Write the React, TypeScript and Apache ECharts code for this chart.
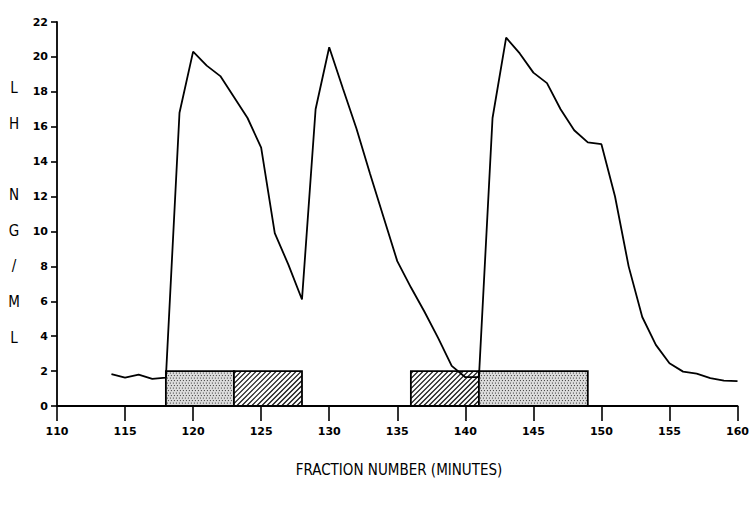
import React, { useEffect, useRef } from "react";
import * as echarts from "echarts";

// Fraction numbers (minutes) and LH concentration (ng/ml)
const fractions = [
  114, 115, 116, 117, 118, 119, 120, 121, 122, 123, 124, 125, 126, 127, 128, 129,
  130, 131, 132, 133, 134, 135, 136, 137, 138, 139, 140, 141, 142, 143, 144, 145,
  146, 147, 148, 149, 150, 151, 152, 153, 154, 155, 156, 157, 158, 159, 160,
];
const lhValues = [
  1.83, 1.62, 1.8, 1.55, 1.62, 16.8, 20.3, 19.5, 18.9, 17.7, 16.5, 14.8, 9.9, 8.1, 6.1, 17.0,
  20.55, 18.2, 15.9, 13.3, 10.8, 8.3, 6.8, 5.4, 3.9, 2.3, 1.65, 1.65, 16.5, 21.1, 20.2, 19.1,
  18.5, 17.0, 15.8, 15.1, 15.0, 12.0, 8.0, 5.1, 3.5, 2.45, 1.97, 1.85, 1.6, 1.45, 1.43,
];

// Treatment boxes: start, end, height, pattern (0 = dotted, 1 = hatched)
const boxStarts = [118, 123, 136, 141];
const boxEnds = [123, 128, 141, 149];
const boxHeights = [2, 2, 2, 2];
const boxPatterns = [0, 1, 1, 0];

const xTicks = { min: 110, max: 160, interval: 5 };
const yTicks = { min: 0, max: 22, interval: 2 };

const xTitle = "FRACTION NUMBER (MINUTES)";
const yTitle = "L\nH\n\nN\nG\n/\nM\nL";

export default function App() {
  const ref = useRef<HTMLDivElement>(null);

  useEffect(() => {
    document.body.style.margin = "0";
    if (!ref.current) return;
    const chart = echarts.init(ref.current, null, { renderer: "svg" });

    const lineData = fractions.map((f, i) => [f, lhValues[i]]);
    const boxData = boxStarts.map((s, i) => [s, boxEnds[i], boxHeights[i], boxPatterns[i]]);

    const tickFont = {
      color: "#000",
      fontFamily: "DejaVu Sans",
      fontWeight: "bold" as const,
      fontSize: 11,
    };

    const renderBox = (params: any, api: any) => {
      const x0 = api.value(0);
      const x1 = api.value(1);
      const h = api.value(2);
      const kind = api.value(3);
      const p0 = api.coord([x0, 0]);
      const p1 = api.coord([x1, h]);
      const left = p0[0];
      const right = p1[0];
      const top = p1[1];
      const bottom = p0[1];
      const children: any[] = [];
      if (kind === 1) {
        children.push({
          type: "rect",
          shape: { x: left, y: top, width: right - left, height: bottom - top },
          style: { fill: "#fff" },
        });
        const step = 5;
        for (let c = left + top + step / 2; c < right + bottom; c += step) {
          const ax = Math.max(left, c - bottom);
          const bx = Math.min(right, c - top);
          if (bx - ax > 0.3) {
            children.push({
              type: "line",
              shape: { x1: ax, y1: c - ax, x2: bx, y2: c - bx },
              style: { stroke: "#111", lineWidth: 1.2 },
            });
          }
        }
      } else {
        children.push({
          type: "rect",
          shape: { x: left, y: top, width: right - left, height: bottom - top },
          style: { fill: "#dcdcdc" },
        });
        let row = 0;
        for (let y = top + 2; y < bottom - 0.5; y += 2.5) {
          children.push({
            type: "line",
            shape: { x1: left + 1, y1: y, x2: right - 1, y2: y },
            style: {
              stroke: "#333",
              lineWidth: 1,
              lineDash: [1, 2],
              lineDashOffset: row % 2 === 0 ? 0 : 1.5,
            },
          });
          row++;
        }
      }
      children.push({
        type: "rect",
        shape: { x: left, y: top, width: right - left, height: bottom - top },
        style: { fill: "none", stroke: "#000", lineWidth: 1.8 },
      });
      return { type: "group", children };
    };

    chart.setOption({
      animation: false,
      backgroundColor: "#fff",
      grid: { left: 57, right: 12, top: 22, bottom: 102, containLabel: false },
      xAxis: {
        type: "value",
        min: xTicks.min,
        max: xTicks.max,
        interval: xTicks.interval,
        axisLine: { show: true, onZero: true, lineStyle: { color: "#000", width: 1.8 } },
        axisTick: { show: true, length: 15, lineStyle: { color: "#000", width: 1.6 } },
        axisLabel: { ...tickFont, margin: 20 },
        splitLine: { show: false },
      },
      yAxis: {
        type: "value",
        min: yTicks.min,
        max: yTicks.max,
        interval: yTicks.interval,
        axisLine: { show: true, lineStyle: { color: "#000", width: 1.8 } },
        axisTick: { show: true, length: 6, lineStyle: { color: "#000", width: 1.6 } },
        axisLabel: { ...tickFont, margin: 9 },
        splitLine: { show: false },
      },
      graphic: [
        {
          type: "text",
          x: 399,
          y: 470,
          style: {
            text: xTitle,
            fill: "#000",
            fontSize: 15,
            align: "center",
            verticalAlign: "middle",
            fontFamily: "'DejaVu Sans Condensed', 'Liberation Sans Narrow', Roboto, sans-serif",
          },
        },
        {
          type: "text",
          x: 14,
          y: 213,
          style: {
            text: yTitle,
            fill: "#000",
            fontSize: 15,
            lineHeight: 35.6,
            align: "center",
            verticalAlign: "middle",
            fontFamily: "'DejaVu Sans Condensed', 'Liberation Sans Narrow', Roboto, sans-serif",
          },
        },
      ],
      series: [
        {
          type: "custom",
          renderItem: renderBox,
          data: boxData,
          encode: { x: [0, 1], y: 2 },
          z: 1,
          silent: true,
        },
        {
          type: "line",
          data: lineData,
          showSymbol: false,
          symbol: "none",
          lineStyle: { color: "#000", width: 1.8 },
          z: 3,
          silent: true,
        },
      ],
    });

    return () => chart.dispose();
  }, []);

  return <div ref={ref} style={{ width: 752, height: 508 }} />;
}
